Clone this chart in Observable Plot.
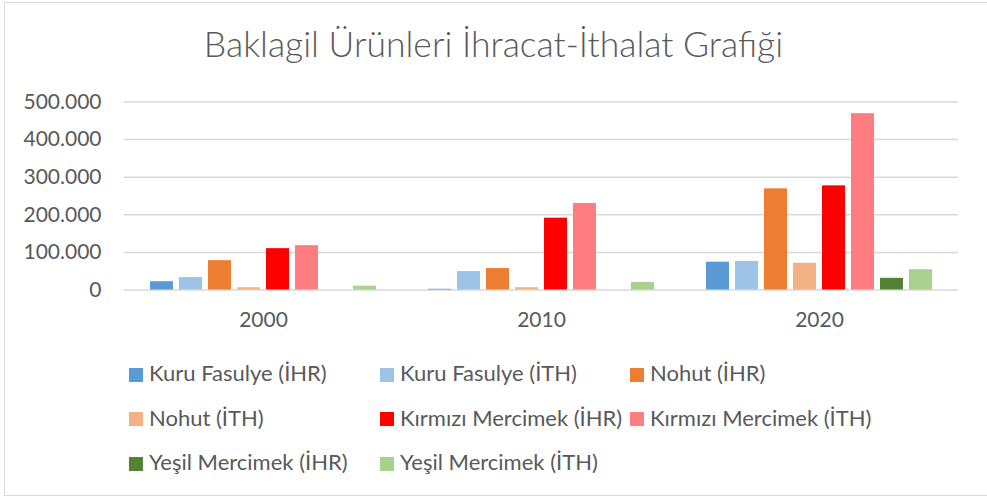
<!DOCTYPE html>
<html>
<head>
<meta charset="utf-8">
<script src="https://cdn.jsdelivr.net/npm/d3@7"></script>
<script src="https://cdn.jsdelivr.net/npm/@observablehq/plot@0.6"></script>
<style>
  html, body { margin: 0; padding: 0; background: #fff; }
  body { width: 987px; height: 499px; position: relative; overflow: hidden; font-family: Lato, "Open Sans", sans-serif; color: #595959; }
  #frame { position: absolute; left: 4px; top: 2px; width: 990px; height: 494px; border: 1.5px solid #d9d9d9; box-sizing: border-box; }
  #title { position: absolute; left: 0; width: 987px; top: 26px; text-align: center; font-size: 35.5px; line-height: 35px; font-weight: 300; color: #595959; white-space: nowrap; }
  #chart { position: absolute; left: 0; top: 85px; }
  .lg { position: absolute; font-size: 22px; line-height: 22px; white-space: nowrap; color: #595959; }
  .sw { position: absolute; width: 14px; height: 14px; }
</style>
</head>
<body>
<div id="frame"></div>
<div id="title">Baklagil Ürünleri İhracat-İthalat Grafiği</div>
<div id="chart"></div>
<div id="legend"></div>
<script>
// ---- data ----
const years = ["2000", "2010", "2020"];
const seriesNames = [
  "Kuru Fasulye (İHR)", "Kuru Fasulye (İTH)", "Nohut (İHR)", "Nohut (İTH)",
  "Kırmızı Mercimek (İHR)", "Kırmızı Mercimek (İTH)", "Yeşil Mercimek (İHR)", "Yeşil Mercimek (İTH)"
];
const colors = ["#5B9BD5", "#9DC3E6", "#ED7D31", "#F4B183", "#FF0000", "#FF7C80", "#548235", "#A9D18E"];
const kuruFasulyeIHR = [22000, 2000, 74000];
const kuruFasulyeITH = [33000, 49000, 76000];
const nohutIHR = [78000, 57000, 269000];
const nohutITH = [6000, 6000, 71000];
const kirmiziMercimekIHR = [110000, 191000, 277000];
const kirmiziMercimekITH = [118000, 230000, 469000];
const yesilMercimekIHR = [0, 0, 31000];
const yesilMercimekITH = [10000, 20000, 54000];
const yTicks = [0, 100000, 200000, 300000, 400000, 500000];

const seriesValues = [kuruFasulyeIHR, kuruFasulyeITH, nohutIHR, nohutITH,
  kirmiziMercimekIHR, kirmiziMercimekITH, yesilMercimekIHR, yesilMercimekITH];
const rows = [];
years.forEach((yr, i) => seriesNames.forEach((s, j) => rows.push({year: yr, series: s, value: seriesValues[j][i]})));

const fmt = d3.formatLocale({decimal: ",", thousands: ".", grouping: [3], currency: ["", "₺"]}).format(",d");

const chart = Plot.plot({
  width: 987,
  height: 255,
  marginLeft: 123,
  marginRight: 29,
  marginTop: 16.5,
  marginBottom: 50.5,
  style: {fontFamily: "Lato, 'Open Sans', sans-serif", fontSize: "21px", color: "#595959", background: "transparent", overflow: "visible"},
  fx: {domain: years, padding: 0, label: null, tickSize: 0, tickPadding: 22},
  x: {domain: seriesNames, paddingInner: 0.207, paddingOuter: 0.837, axis: null},
  y: {domain: [0, 500000], ticks: yTicks, tickFormat: fmt, tickSize: 0, tickPadding: 23, label: null},
  color: {domain: seriesNames, range: colors},
  marks: [
    Plot.ruleY(yTicks, {stroke: "#d9d9d9", strokeWidth: 1.5}),
    Plot.barY(rows, {fx: "year", x: "series", y: "value", fill: "series"})
  ]
});
document.getElementById("chart").appendChild(chart);

// ---- legend (HTML, 3 columns) ----
const legend = document.getElementById("legend");
const colX = [129, 380, 630];
const rowBase = [381.7, 426.2, 470.7];
seriesNames.forEach((s, i) => {
  const c = i % 3, r = Math.floor(i / 3);
  const sw = document.createElement("div");
  sw.className = "sw";
  sw.style.left = colX[c] + "px";
  sw.style.top = (rowBase[r] - 14) + "px";
  sw.style.background = colors[i];
  legend.appendChild(sw);
  const t = document.createElement("div");
  t.className = "lg";
  t.style.left = (colX[c] + 20) + "px";
  t.style.top = (rowBase[r] - 19.5) + "px";
  t.textContent = s;
  legend.appendChild(t);
});
</script>
</body>
</html>
